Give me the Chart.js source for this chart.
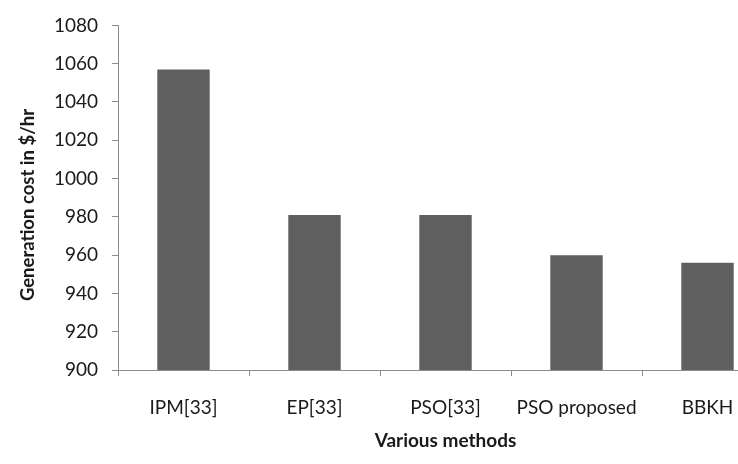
<!DOCTYPE html>
<html>
<head>
<meta charset="utf-8">
<script src="https://cdn.jsdelivr.net/npm/chart.js@4.4.0/dist/chart.umd.min.js"></script>
<style>
  html, body { margin: 0; padding: 0; background: #fff; overflow: hidden; }
  #wrap { width: 776px; height: 464px; position: relative; }
</style>
</head>
<body>
<div id="wrap"><canvas id="c"></canvas></div>
<script>
const categories = ["IPM[33]", "EP[33]", "PSO[33]", "PSO proposed", "BBKH"];
const costValues = [1057, 981, 981, 960, 956];
const yTicks = [900, 920, 940, 960, 980, 1000, 1020, 1040, 1060, 1080];
const yTitle = 'Generation cost in $/hr';
const xTitle = 'Various methods';

const axisColor = '#8c8c8c';
const textColor = '#1a1a1a';
const fontFamily = 'Lato, "Open Sans", sans-serif';

const yTitlePlugin = {
  id: 'yTitle',
  afterDraw(chart) {
    const ctx = chart.ctx;
    ctx.save();
    ctx.translate(28, 205);
    ctx.rotate(-Math.PI / 2);
    ctx.font = 'bold 18.5px ' + fontFamily;
    ctx.fillStyle = textColor;
    ctx.textAlign = 'center';
    ctx.textBaseline = 'middle';
    ctx.fillText(yTitle, 0, 0);
    ctx.restore();
  }
};

new Chart(document.getElementById('c'), {
  type: 'bar',
  data: {
    labels: categories,
    datasets: [{
      data: costValues,
      backgroundColor: '#5f5f5f',
      borderWidth: 0,
      barPercentage: 0.4,
      categoryPercentage: 1.0
    }]
  },
  plugins: [yTitlePlugin],
  options: {
    responsive: true,
    maintainAspectRatio: false,
    animation: false,
    layout: { padding: { top: 24, right: 3, left: 0, bottom: 0 } },
    plugins: { legend: { display: false }, tooltip: { enabled: false } },
    scales: {
      x: {
        grid: { display: true, drawOnChartArea: false, offset: true, color: axisColor, tickLength: 6 },
        border: { color: axisColor, width: 1 },
        ticks: { color: textColor, font: { family: fontFamily, size: 19 }, padding: 20, maxRotation: 0 },
        title: { display: true, text: xTitle, color: textColor,
                 font: { family: fontFamily, size: 19, weight: 'bold' }, padding: { top: 0, bottom: 12 } },
        afterFit: (s) => { s.height = 94; }
      },
      y: {
        min: 900, max: 1080,
        afterBuildTicks: (s) => { s.ticks = yTicks.map(v => ({ value: v })); },
        grid: { display: true, drawOnChartArea: false, color: axisColor, tickLength: 6 },
        border: { color: axisColor, width: 1 },
        ticks: { color: textColor, font: { family: fontFamily, size: 19 }, padding: 14,
                 callback: (v) => String(v) },
        title: { display: false },
        afterFit: (s) => { s.width = 118; }
      }
    }
  }
});
</script>
</body>
</html>
